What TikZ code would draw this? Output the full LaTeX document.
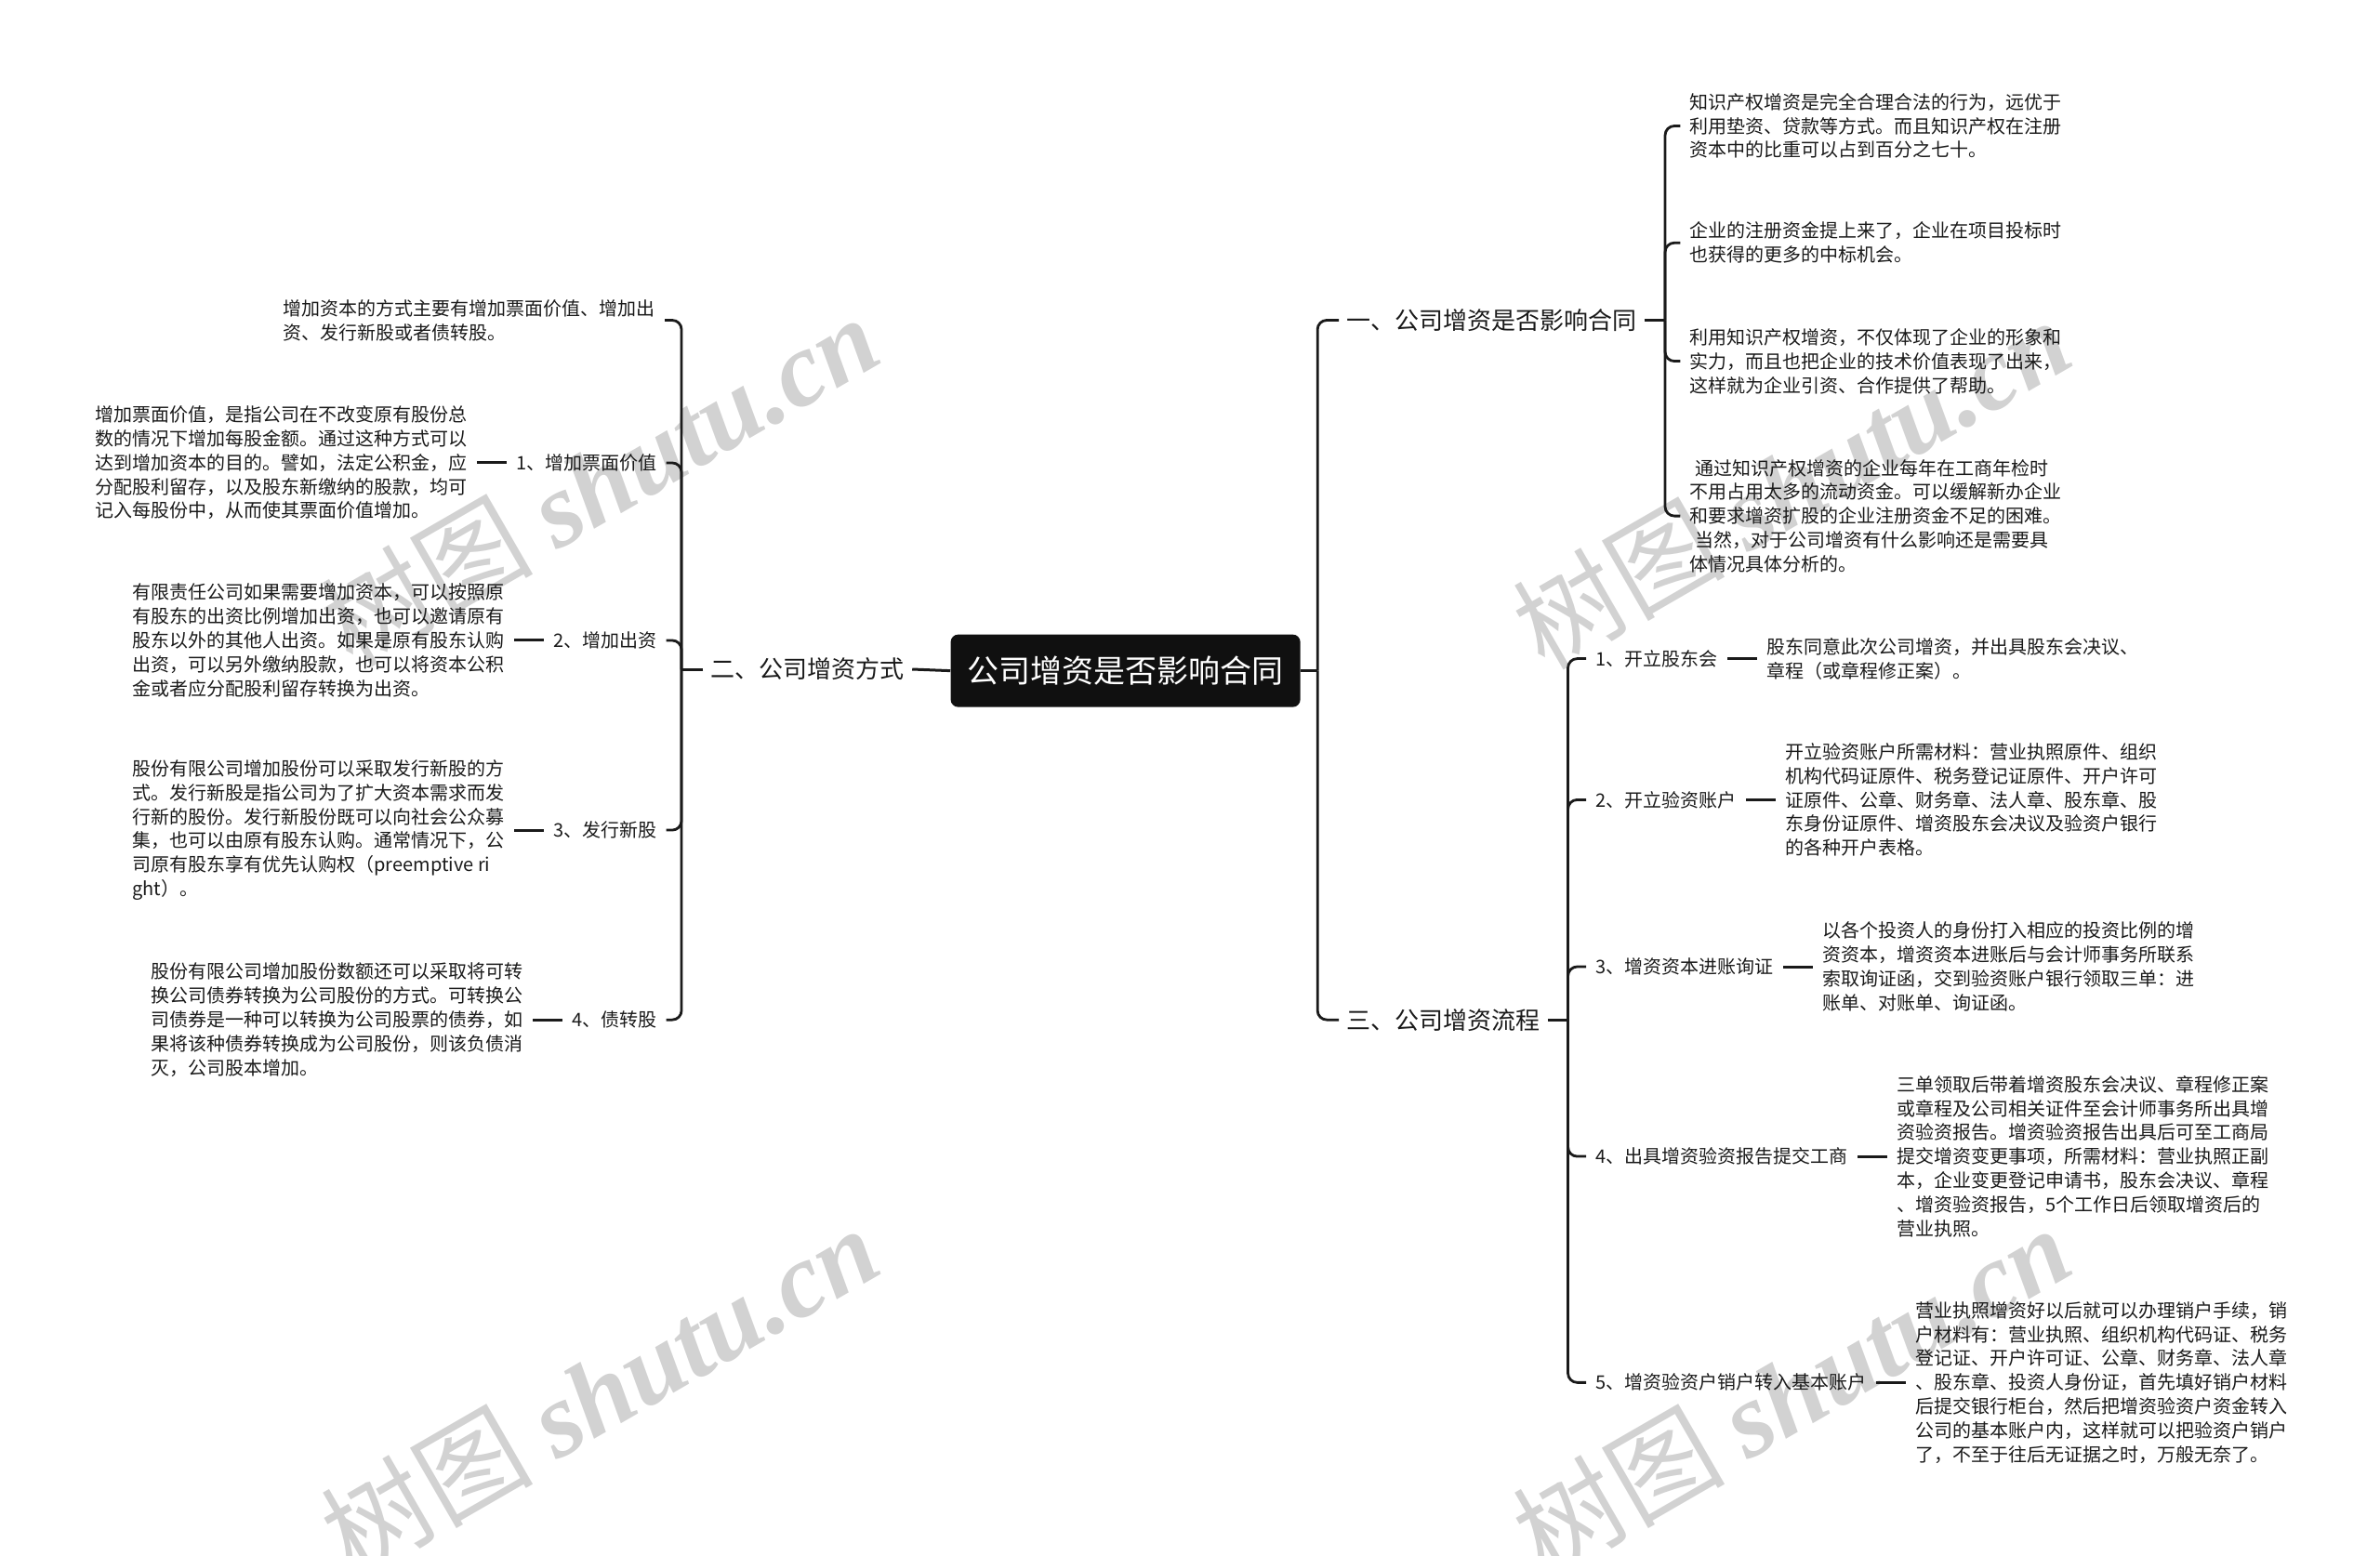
\documentclass[tikz,border=0pt]{standalone}
\usepackage{fontspec}
\setmainfont{Noto Sans CJK SC}
\newfontfamily\wmserif{Liberation Serif}
\usetikzlibrary{positioning}
\definecolor{ink}{HTML}{1A1A1A}
\definecolor{rootfill}{HTML}{101010}
\definecolor{wmark}{HTML}{D2D2D2}
\tikzset{
  rootbox/.style={fill=rootfill,rounded corners=4pt,text=white,inner sep=0pt,
                  font=\fontsize{17}{20}\selectfont,minimum width=188pt,minimum height=39pt},
  topic/.style={text=ink,inner xsep=4pt,inner ysep=2pt,font=\fontsize{13}{16}\selectfont},
  subtopic/.style={text=ink,inner xsep=5pt,inner ysep=2pt,font=\fontsize{10}{13}\selectfont},
  leaf/.style={text=ink,align=left,inner xsep=5pt,inner ysep=2pt,
               font=\fontsize{10}{12.9}\selectfont},
  link/.style={draw=ink,line width=1.4pt,rounded corners=5pt},
  stub/.style={draw=ink,line width=1.5pt},
  wmtext/.style={text=wmark,rotate=30,font=\fontsize{57}{60}\selectfont}
}
\begin{document}
\begin{tikzpicture}[x=0.8163pt,y=-0.8163pt,node distance=16pt]
  \useasboundingbox (0,0) rectangle (1568,1025);
  % watermarks
  \node[wmtext] (wm1) at (395,316) {树图 {\wmserif\bfseries\itshape shutu.cn}};
  \node[wmtext] (wm2) at (1180,318) {树图 {\wmserif\bfseries\itshape shutu.cn}};
  \node[wmtext] (wm3) at (395,916) {树图 {\wmserif\bfseries\itshape shutu.cn}};
  \node[wmtext] (wm4) at (1180,916) {树图 {\wmserif\bfseries\itshape shutu.cn}};

  % central topic
  \node[rootbox] (root) at (741.5,442) {公司增资是否影响合同};

  % left: ways of raising capital
  \node[topic,anchor=east] (ways) at (601,441) {二、公司增资方式};
  \coordinate (waysjn) at (449,441);
  \node[leaf,anchor=east] (waysnote) at (438,211)
    {增加资本的方式主要有增加票面价值、增加出\\资、发行新股或者债转股。};
  \node[subtopic,anchor=east] (par) at (439,305) {1、增加票面价值};
  \node[leaf,left=of par] (parnote)
    {增加票面价值，是指公司在不改变原有股份总\\数的情况下增加每股金额。通过这种方式可以\\
     达到增加资本的目的。譬如，法定公积金，应\\分配股利留存，以及股东新缴纳的股款，均可\\
     记入每股份中，从而使其票面价值增加。};
  \node[subtopic,anchor=east] (cap) at (439,422) {2、增加出资};
  \node[leaf,left=of cap] (capnote)
    {有限责任公司如果需要增加资本，可以按照原\\有股东的出资比例增加出资，也可以邀请原有\\
     股东以外的其他人出资。如果是原有股东认购\\出资，可以另外缴纳股款，也可以将资本公积\\
     金或者应分配股利留存转换为出资。};
  \node[subtopic,anchor=east] (newshare) at (439,547) {3、发行新股};
  \node[leaf,left=of newshare] (newsharenote)
    {股份有限公司增加股份可以采取发行新股的方\\式。发行新股是指公司为了扩大资本需求而发\\
     行新的股份。发行新股份既可以向社会公众募\\集，也可以由原有股东认购。通常情况下，公\\
     司原有股东享有优先认购权（preemptive ri\\ght）。};
  \node[subtopic,anchor=east] (convert) at (439,672) {4、债转股};
  \node[leaf,left=of convert] (convertnote)
    {股份有限公司增加股份数额还可以采取将可转\\换公司债券转换为公司股份的方式。可转换公\\
     司债券是一种可以转换为公司股票的债券，如\\果将该种债券转换成为公司股份，则该负债消\\
     灭，公司股本增加。};

  % right: effect on contracts
  \coordinate (rootjn) at (868,442);
  \node[topic,anchor=west] (effect) at (882,211) {一、公司增资是否影响合同};
  \coordinate (effectjn) at (1097,211);
  \node[leaf,anchor=west] (ipr) at (1107,83)
    {知识产权增资是完全合理合法的行为，远优于\\利用垫资、贷款等方式。而且知识产权在注册\\
     资本中的比重可以占到百分之七十。};
  \node[leaf,anchor=west] (bid) at (1107,160)
    {企业的注册资金提上来了，企业在项目投标时\\也获得的更多的中标机会。};
  \node[leaf,anchor=west] (image) at (1107,238)
    {利用知识产权增资，不仅体现了企业的形象和\\实力，而且也把企业的技术价值表现了出来，\\
     这样就为企业引资、合作提供了帮助。};
  \node[leaf,anchor=west] (fund) at (1107,340)
    {\hspace*{3pt}通过知识产权增资的企业每年在工商年检时\\不用占用太多的流动资金。可以缓解新办企业\\
     和要求增资扩股的企业注册资金不足的困难。\\\hspace*{3pt}当然，对于公司增资有什么影响还是需要具\\
     体情况具体分析的。};

  % right: procedure
  \node[topic,anchor=west] (flow) at (882,672) {三、公司增资流程};
  \coordinate (flowjn) at (1033,672);
  \node[subtopic,anchor=west] (meet) at (1045,434) {1、开立股东会};
  \node[leaf,right=of meet] (meetnote)
    {股东同意此次公司增资，并出具股东会决议、\\章程（或章程修正案）。};
  \node[subtopic,anchor=west] (acct) at (1045,527) {2、开立验资账户};
  \node[leaf,right=of acct] (acctnote)
    {开立验资账户所需材料：营业执照原件、组织\\机构代码证原件、税务登记证原件、开户许可\\
     证原件、公章、财务章、法人章、股东章、股\\东身份证原件、增资股东会决议及验资户银行\\
     的各种开户表格。};
  \node[subtopic,anchor=west] (verify) at (1045,637) {3、增资资本进账询证};
  \node[leaf,right=of verify] (verifynote)
    {以各个投资人的身份打入相应的投资比例的增\\资资本，增资资本进账后与会计师事务所联系\\
     索取询证函，交到验资账户银行领取三单：进\\账单、对账单、询证函。};
  \node[subtopic,anchor=west] (report) at (1045,762) {4、出具增资验资报告提交工商};
  \node[leaf,right=of report] (reportnote)
    {三单领取后带着增资股东会决议、章程修正案\\或章程及公司相关证件至会计师事务所出具增\\
     资验资报告。增资验资报告出具后可至工商局\\提交增资变更事项，所需材料：营业执照正副\\
     本，企业变更登记申请书，股东会决议、章程\\、增资验资报告，5个工作日后领取增资后的\\
     营业执照。};
  \node[subtopic,anchor=west] (close) at (1045,911) {5、增资验资户销户转入基本账户};
  \node[leaf,right=of close] (closenote)
    {营业执照增资好以后就可以办理销户手续，销\\户材料有：营业执照、组织机构代码证、税务\\
     登记证、开户许可证、公章、财务章、法人章\\、股东章、投资人身份证，首先填好销户材料\\
     后提交银行柜台，然后把增资验资户资金转入\\公司的基本账户内，这样就可以把验资户销户\\
     了，不至于往后无证据之时，万般无奈了。};

  % connectors
  \draw[stub] (root.west) -- (ways.east);
  \draw[stub] (ways.west) -- (waysjn);
  \foreach \n in {waysnote,par,cap,newshare,convert}
    \draw[link] (waysjn) |- (\n.east);
  \foreach \a/\b in {par/parnote,cap/capnote,newshare/newsharenote,convert/convertnote}
    \draw[stub] (\a.west) -- (\b.east);

  \draw[stub] (root.east) -- (rootjn);
  \draw[link] (rootjn) |- (effect.west);
  \draw[link] (rootjn) |- (flow.west);
  \draw[stub] (effect.east) -- (effectjn);
  \foreach \n in {ipr,bid,image,fund}
    \draw[link] (effectjn) |- (\n.west);
  \draw[stub] (flow.east) -- (flowjn);
  \foreach \n in {meet,acct,verify,report,close}
    \draw[link] (flowjn) |- (\n.west);
  \foreach \a/\b in {meet/meetnote,acct/acctnote,verify/verifynote,report/reportnote,close/closenote}
    \draw[stub] (\a.east) -- (\b.west);
\end{tikzpicture}
\end{document}
